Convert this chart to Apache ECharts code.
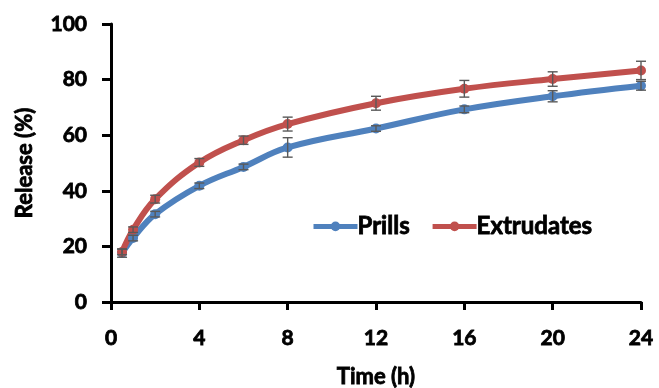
<!DOCTYPE html>
<html>
<head>
<meta charset="utf-8">
<script src="https://cdn.jsdelivr.net/npm/echarts@6/dist/echarts.min.js"></script>
<style>
  html, body { margin: 0; padding: 0; background: #fff; }
  #chart { width: 659px; height: 388px; }
</style>
</head>
<body>
<div id="chart"></div>
<script>
// Release profile over time for two formulations
const times = [0.5, 1, 2, 4, 6, 8, 12, 16, 20, 24];
const prills = [17.6, 23.0, 31.6, 41.8, 48.6, 55.6, 62.4, 69.3, 74.0, 77.8];
const prillsErr = [1.5, 1.0, 1.0, 1.0, 1.0, 3.5, 1.0, 1.2, 2.0, 1.6];
const extrudates = [18.0, 26.0, 37.0, 50.2, 58.2, 64.0, 71.5, 76.7, 80.2, 83.3];
const extrudatesErr = [1.0, 1.0, 1.4, 1.4, 1.5, 2.5, 2.5, 3.0, 2.6, 3.3];
const xTicks = [0, 4, 8, 12, 16, 20, 24];
const yTicks = [0, 20, 40, 60, 80, 100];

const font = 'Lato, "Open Sans", sans-serif';
const blue = '#4f81bd';
const red = '#c0504d';

function pairs(ys) { return times.map((t, i) => [t, ys[i]]); }
function errRows(ys, es) { return times.map((t, i) => [t, ys[i] - es[i], ys[i] + es[i]]); }

function errorBars(params, api) {
  const x = api.value(0);
  const lo = api.coord([x, api.value(1)]);
  const hi = api.coord([x, api.value(2)]);
  const cap = 5;
  const style = { stroke: '#595959', lineWidth: 1.4 };
  return {
    type: 'group',
    children: [
      { type: 'line', shape: { x1: lo[0], y1: lo[1], x2: hi[0], y2: hi[1] }, style },
      { type: 'line', shape: { x1: lo[0] - cap, y1: lo[1], x2: lo[0] + cap, y2: lo[1] }, style },
      { type: 'line', shape: { x1: hi[0] - cap, y1: hi[1], x2: hi[0] + cap, y2: hi[1] }, style }
    ]
  };
}

// heavy black text, slightly stroked for a bolder look
const textBase = {
  fontFamily: font, fontWeight: 'bold', color: '#000',
  textBorderColor: '#000', textBorderWidth: 0.8
};

const chart = echarts.init(document.getElementById('chart'));
chart.setOption({
  animation: false,
  backgroundColor: '#fff',
  grid: { left: 111, right: 18, top: 24, bottom: 86, outerBoundsMode: 'none', containLabel: false },
  legend: {
    data: ['Prills', 'Extrudates'],
    left: 306, top: 209,
    itemWidth: 44, itemHeight: 12, itemGap: 20,
    lineStyle: { width: 5 },
    itemStyle: { borderWidth: 0 },
    textStyle: Object.assign({ fontSize: 24, padding: [0, 0, 0, -5] }, textBase)
  },
  xAxis: {
    type: 'value', min: 0, max: 24, interval: 4,
    name: 'Time (h)', nameLocation: 'middle', nameGap: 64,
    nameTextStyle: Object.assign({ fontSize: 22 }, textBase),
    axisLine: { lineStyle: { color: '#000', width: 3 } },
    axisTick: { show: true, inside: false, length: 8, lineStyle: { color: '#000', width: 3 } },
    axisLabel: Object.assign({ fontSize: 21, margin: 26, customValues: xTicks }, textBase),
    splitLine: { show: false }
  },
  yAxis: {
    type: 'value', min: 0, max: 100, interval: 20,
    name: 'Release (%)', nameLocation: 'middle', nameGap: 75, nameRotate: 90,
    nameTextStyle: Object.assign({ fontSize: 22 }, textBase),
    axisLine: { show: true, lineStyle: { color: '#000', width: 3 } },
    axisTick: { show: true, inside: false, length: 9, lineStyle: { color: '#000', width: 3 } },
    axisLabel: Object.assign({ fontSize: 21, margin: 24, customValues: yTicks }, textBase),
    splitLine: { show: false }
  },
  series: [
    {
      name: 'Prills', type: 'line', data: pairs(prills), smooth: 0.4,
      symbol: 'circle', symbolSize: 10, color: blue,
      lineStyle: { width: 6, color: blue }, itemStyle: { color: blue }, z: 3
    },
    {
      name: 'Extrudates', type: 'line', data: pairs(extrudates), smooth: 0.4,
      symbol: 'circle', symbolSize: 10, color: red,
      lineStyle: { width: 6, color: red }, itemStyle: { color: red }, z: 3
    },
    { type: 'custom', data: errRows(prills, prillsErr), renderItem: errorBars, z: 5, silent: true },
    { type: 'custom', data: errRows(extrudates, extrudatesErr), renderItem: errorBars, z: 5, silent: true }
  ]
});
</script>
</body>
</html>
